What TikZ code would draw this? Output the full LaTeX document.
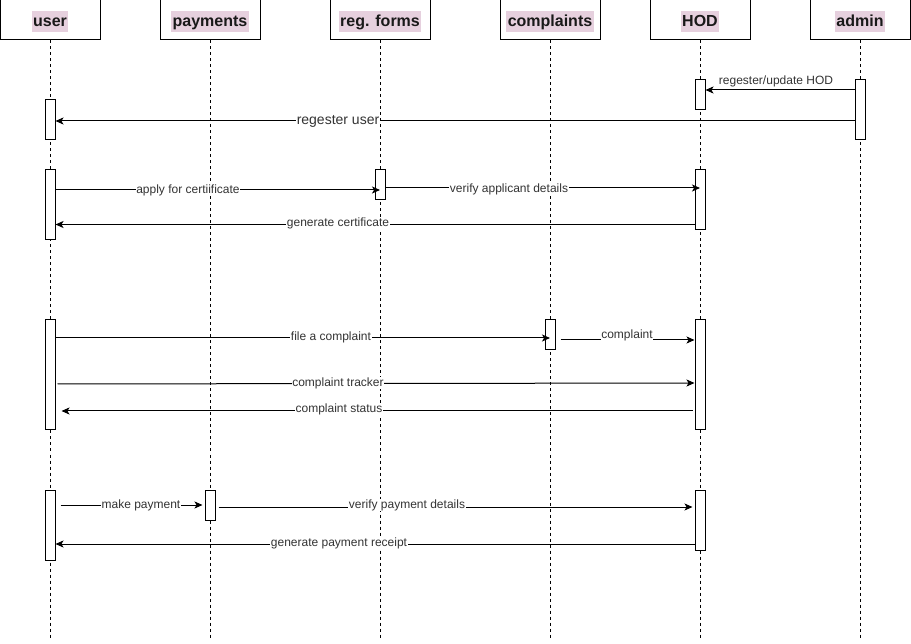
\documentclass[tikz,border=0pt]{standalone}
\usepackage{fontspec}
\setmainfont{Liberation Sans}
\usetikzlibrary{arrows.meta}
\definecolor{hilite}{HTML}{E6D0DE}
\definecolor{lbltext}{HTML}{333333}
\begin{document}
\begin{tikzpicture}[x=1pt,y=-1pt,
  head/.style={draw,line width=1pt,minimum width=100pt,minimum height=40pt,inner sep=0pt,fill=white},
  htext/.style={fill=hilite,font=\bfseries\fontsize{16}{18}\selectfont,inner xsep=1.5pt,inner ysep=2.7pt,
    text height=13pt,text depth=2.6pt,text=black!90},
  life/.style={line width=1pt,dash pattern=on 3pt off 3pt},
  act/.style={draw,fill=white,line width=1pt,minimum width=10pt,inner sep=0pt},
  msg/.style={line width=1pt,-{Stealth[length=8pt,width=7pt,inset=2pt]}},
  lbl/.style={fill=white,inner sep=0.5pt,font=\fontsize{12}{14}\selectfont,text=lbltext}]
\useasboundingbox (0,0) rectangle (911,644);

% participants
\node[head] (user) at (50,20) {};
\node[head] (pay)  at (210,20) {};
\node[head] (reg)  at (380,20) {};
\node[head] (comp) at (550,20) {};
\node[head] (hod)  at (700,20) {};
\node[head] (adm)  at (860,20) {};
\node[htext] (userT) at ([yshift=-1.5pt]user.center) {user};
\node[htext] (payT)  at ([yshift=-1.5pt]pay.center) {payments};
\node[htext] (regT)  at ([yshift=-1.5pt]reg.center) {reg. forms};
\node[htext] (compT) at ([yshift=-1.5pt]comp.center) {complaints};
\node[htext] (hodT)  at ([yshift=-1.5pt]hod.center) {HOD};
\node[htext] (admT)  at ([yshift=-1.5pt]adm.center) {admin};

% lifelines
\foreach \p in {user,pay,reg,comp,hod,adm}
  \draw[life] (\p.south) -- (\p.south |- 0,640);

% activation bars
\node[act,minimum height=30pt] (hodA)  at (700,95) {};
\node[act,minimum height=60pt] (admA)  at (860,110) {};
\node[act,minimum height=40pt] (userA) at (50,120) {};
\node[act,minimum height=70pt] (userB) at (50,205) {};
\node[act,minimum height=30pt] (regB)  at (380,185) {};
\node[act,minimum height=60pt] (hodB)  at (700,200) {};
\node[act,minimum height=110pt] (userC) at (50,375) {};
\node[act,minimum height=30pt] (compC) at (550,335) {};
\node[act,minimum height=110pt] (hodC)  at (700,375) {};
\node[act,minimum height=70pt] (userD) at (50,525) {};
\node[act,minimum height=30pt] (payD)  at (210,505) {};
\node[act,minimum height=60pt] (hodD)  at (700,520) {};

% registration
\draw[msg] (admA.west |- 0,90) -- (hodA.east |- 0,90);
\node[lbl,fill=none] (m1) at (776,81) {regester/update HOD};
\draw[msg] (admA.west |- 0,121) -- (userA.east |- 0,121);
\node[lbl,font=\fontsize{14}{16}\selectfont] (m2) at (338,121) {regester user};

% certificate
\draw[msg] (userB.east |- 0,190) -- (regB.center |- 0,190);
\node[lbl] (m3) at (188,190) {apply for certiificate};
\draw[msg] (regB.east |- 0,188) -- (hodB.center |- 0,188);
\node[lbl] (m4) at (509,189) {verify applicant details};
\draw[msg] (hodB.west |- 0,224.5) -- (userB.east |- 0,224.5);
\node[lbl] (m5) at (338,223) {generate certificate};

% complaints
\draw[msg] (userC.east |- 0,338) -- (compC.center |- 0,338);
\node[lbl] (m6) at (331,337) {file a complaint};
\draw[msg] ([xshift=5pt]compC.east |- 0,340) -- (hodC.west |- 0,340);
\node[lbl] (m7) at (627,335) {complaint};
\draw[msg] ([xshift=2pt]userC.east |- 0,384) -- (hodC.west |- 0,383);
\node[lbl] (m8) at (338,383) {complaint tracker};
\draw[msg] ([xshift=-2pt]hodC.west |- 0,411) -- ([xshift=6pt]userC.east |- 0,411);
\node[lbl] (m9) at (339,409) {complaint status};

% payments
\draw[msg] ([xshift=5pt]userD.east |- 0,505) -- ([xshift=-2pt]payD.west |- 0,505);
\node[lbl] (m10) at (141,505) {make payment};
\draw[msg] ([xshift=3pt]payD.east |- 0,507) -- ([xshift=-2pt]hodD.west |- 0,507);
\node[lbl] (m11) at (407,505) {verify payment details};
\draw[msg] (hodD.west |- 0,544) -- (userD.east |- 0,544);
\node[lbl] (m12) at (339,543) {generate payment receipt};
\end{tikzpicture}
\end{document}
